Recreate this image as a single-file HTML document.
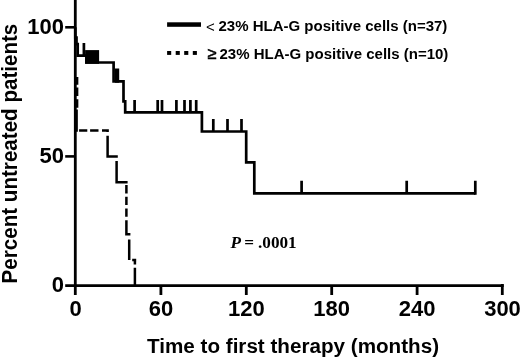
<!DOCTYPE html>
<html><head><meta charset="utf-8">
<style>
html,body{margin:0;padding:0;background:#fff;}
body{width:520px;height:359px;overflow:hidden;}
svg{display:block;}
.b{font-family:"Liberation Sans",Arial,sans-serif;font-weight:bold;fill:#000;}
.s{font-family:"Liberation Serif","Times New Roman",serif;font-weight:bold;fill:#000;}
</style></head>
<body>
<svg width="520" height="359" viewBox="0 0 520 359">
<rect width="520" height="359" fill="#fff"/>
<!-- axes -->
<g stroke="#000" stroke-width="2.8" fill="none" stroke-linecap="butt">
  <line x1="75.3" y1="0" x2="75.3" y2="295"/>
  <line x1="65.2" y1="285.7" x2="503.7" y2="285.7"/>
  <line x1="65.2" y1="27.3" x2="75.3" y2="27.3" stroke-width="2.6"/>
  <line x1="65.2" y1="156.4" x2="75.3" y2="156.4" stroke-width="2.6"/>
  <line x1="160.9" y1="285.5" x2="160.9" y2="295"/>
  <line x1="246.3" y1="285.5" x2="246.3" y2="295"/>
  <line x1="331.7" y1="285.5" x2="331.7" y2="295"/>
  <line x1="417.1" y1="285.5" x2="417.1" y2="295"/>
  <line x1="502.3" y1="284" x2="502.3" y2="295"/>
</g>
<!-- y tick labels -->
<g class="b" font-size="22" text-anchor="end">
  <text x="64" y="34">100</text>
  <text x="64" y="163.3">50</text>
  <text x="64" y="292.3">0</text>
</g>
<!-- x tick labels -->
<g class="b" font-size="22" text-anchor="middle">
  <text x="75.5" y="316.4">0</text>
  <text x="160.9" y="316.4">60</text>
  <text x="246.3" y="316.4">120</text>
  <text x="331.7" y="316.4">180</text>
  <text x="417.1" y="316.4">240</text>
  <text x="502.5" y="316.4">300</text>
</g>
<!-- axis titles -->
<text class="b" font-size="20.65" x="147" y="352.6">Time to first therapy (months)</text>
<text class="b" font-size="20.6" transform="translate(16.8,283.4) rotate(-90) scale(1,1.035)">Percent untreated patients</text>

<!-- solid curve -->
<g stroke="#000" stroke-width="2.7" fill="none">
  <path d="M75.3 27.3 V37.5 H76.5 V44.2 H77.7 V55.6 H86.4 V62.5 H113.6 V81.3 H123.5 V101.4 H125.2 V112.3 H201.9 V131.5 H246.2 V162.3 H254.3 V193.4 H475.3"/>
  <!-- censor ticks -->
  <path d="M83.9 55.6 V43 M134.6 112.3 V100 M157.7 112.3 V100 M162 112.3 V100 M176.4 112.3 V100 M184.5 112.3 V100 M190.4 112.3 V100 M196.2 112.3 V100 M213.3 131.5 V119.1 M227.5 131.5 V119.1 M241.5 131.5 V119.1 M301.6 193.4 V180.8 M406.7 193.4 V180.8 M475.3 194.7 V180.8"/>
</g>
<rect x="85.1" y="50.1" width="14" height="13.7" fill="#000"/>
<rect x="114.9" y="68.5" width="4.3" height="14.2" fill="#000"/>

<!-- dashed curve (explicit dashes) -->
<g stroke="#000" stroke-width="2.5" fill="none">
  <path d="M77.1 77 V84.8 M77.1 87.6 V96 M77.1 99.3 V107.7 M76.6 109.5 V131.7"/>
  <path d="M79.1 130.5 H87.3 M90.1 130.5 H98.5 M102 130.5 H107.6 V132"/>
  <path d="M107.6 135.7 V156.4 H117.8"/>
  <path d="M116.6 161 V182.2 H127.6"/>
  <path d="M126.4 185 V193.4 M126.4 196.7 V205.1 M126.4 208.5 V216.8 M126.4 220.2 V234.3 H130.4"/>
  <path d="M129.2 239.6 V260.1 M132.2 260.1 H136.2"/>
  <path d="M134.9 261 V264.4 M134.9 267.8 V285.5"/>
</g>

<!-- legend -->
<rect x="167.1" y="22.3" width="33.9" height="4.5" fill="#000"/>
<g fill="#000">
  <rect x="167.1" y="51" width="4.1" height="3.9"/>
  <rect x="175.7" y="51" width="4.1" height="3.9"/>
  <rect x="184.2" y="51" width="4.1" height="3.9"/>
  <rect x="192.8" y="51" width="4.1" height="3.9"/>
</g>
<text style="font-family:'Liberation Sans',Arial,sans-serif" font-size="15" x="206" y="31.7">&lt;</text>
<text class="b" font-size="15" x="218.5" y="30.8">23% HLA-G positive cells (n=37)</text>
<text style="font-family:'Liberation Sans',Arial,sans-serif" font-size="16.5" stroke="#000" stroke-width="0.5" x="207.2" y="59">≥</text>
<text class="b" font-size="15" x="219.5" y="58.8">23% HLA-G positive cells (n=10)</text>

<!-- p value -->
<text class="s" font-size="17.2" y="248.1"><tspan x="230.5" font-style="italic">P</tspan><tspan x="244.3">=</tspan><tspan x="258">.0001</tspan></text>
</svg>
</body></html>
